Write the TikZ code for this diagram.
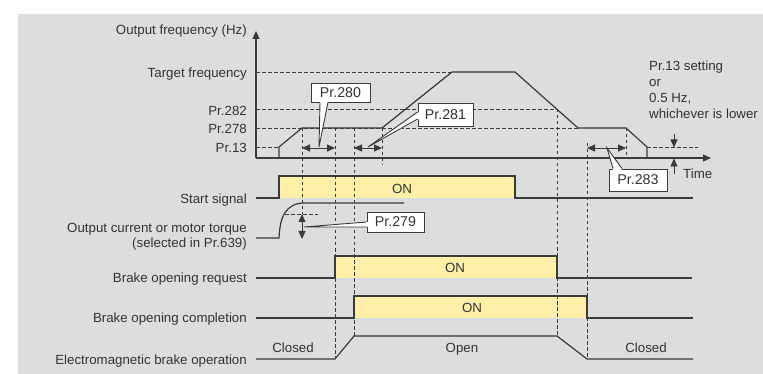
\documentclass[tikz,border=0pt]{standalone}
\usepackage{fontspec}
\setmainfont{Liberation Sans}
\usetikzlibrary{arrows.meta}
\definecolor{bg}{HTML}{DCDDDF}
\definecolor{ln}{HTML}{3A3A3A}
\definecolor{yel}{HTML}{FFEFA8}
\definecolor{txt}{HTML}{333333}
\begin{document}
\begin{tikzpicture}[x=1pt,y=-1pt,
  lbl/.style={anchor=east, inner sep=0pt, text height=9.5pt, text depth=0pt, font=\fontsize{13.3}{16}\selectfont, text=txt},
  ctr/.style={anchor=center, inner sep=0pt, text height=9.5pt, text depth=0pt, font=\fontsize{13.3}{16}\selectfont, text=txt},
  lft/.style={anchor=west, inner sep=0pt, text height=9.5pt, text depth=0pt, font=\fontsize{13.3}{16}\selectfont, text=txt},
  callout/.style={draw=ln, line width=0.9pt, fill=white, inner sep=0pt, text height=10pt, text depth=0pt, font=\fontsize{14.2}{16}\selectfont, text=txt},
  sig/.style={draw=ln, line width=1.2pt},
  dsh/.style={draw=ln, line width=0.75pt, dash pattern=on 3.5pt off 2.5pt},
  dimarrow/.style={draw=ln, line width=0.9pt, {Triangle[length=8pt,width=7pt]}-{Triangle[length=8pt,width=7pt]}},
  onearrow/.style={draw=ln, line width=0.9pt, -{Triangle[length=8pt,width=7pt]}}
]
\useasboundingbox (0,0) rectangle (763,374);
\fill[white] (0,0) rectangle (763,374);
\fill[bg] (18,14) rectangle (763,374);

% yellow ON areas
\fill[yel] (279,176) rectangle (515,198);
\fill[yel] (335,256) rectangle (557,278);
\fill[yel] (354,296) rectangle (587,318);

% dashed guide lines (horizontal)
\draw[dsh] (256,72) -- (452,72);
\draw[dsh] (256,109) -- (557,109);
\draw[dsh] (256,128) -- (578,128);
\draw[dsh] (256,147) -- (279,147);
\draw[dsh] (647,147) -- (698,147);
\draw[dsh] (285,214) -- (318,214);
% dashed guide lines (vertical)
\draw[dsh] (302,128) -- (302,214);
\draw[dsh] (335,128) -- (335,358);
\draw[dsh] (354,128) -- (354,336);
\draw[dsh] (382,128) -- (382,165);
\draw[dsh] (557,109) -- (557,336);
\draw[dsh] (587,143) -- (587,358);
\draw[dsh] (626,128) -- (626,158);

% axes
\coordinate (origin) at (256,158);
\coordinate (ytip) at (256,31);
\coordinate (xtip) at (711,158);
\draw[onearrow, line width=1.2pt] (origin) -- (ytip);
\draw[onearrow, line width=1.2pt] (origin) -- (xtip);

% output frequency
\draw[sig, line join=miter] (279,158) -- (279,147) -- (302,128) -- (382,128) -- (452,72) -- (515,72) -- (578,128) -- (626,128) -- (647,147) -- (647,158);

% start signal
\draw[sig] (256,198) -- (279,198) -- (279,176) -- (515,176) -- (515,198) -- (693,198);
% output current / torque
\draw[sig] (256,238) -- (279,238) .. controls (280,216) and (286,203) .. (305,203) -- (404,203);
% brake opening request
\draw[sig] (256,278) -- (335,278) -- (335,256) -- (557,256) -- (557,278) -- (692,278);
% brake opening completion
\draw[sig] (256,318) -- (354,318) -- (354,296) -- (587,296) -- (587,318) -- (693,318);
% electromagnetic brake operation
\draw[sig] (256,359) -- (335,359) -- (354,336) -- (557,336) -- (587,359) -- (693,359);

% dimension arrows
\coordinate (a280l) at (302,148); \coordinate (a280r) at (335,148);
\coordinate (a281l) at (354,148); \coordinate (a281r) at (382,148);
\coordinate (a283l) at (587,148); \coordinate (a283r) at (626,148);
\coordinate (a279t) at (302,214); \coordinate (a279b) at (302,239);
\draw[dimarrow] (a280l) -- (a280r);
\draw[dimarrow] (a281l) -- (a281r);
\draw[dimarrow] (a283l) -- (a283r);
\draw[dimarrow] (a279t) -- (a279b);
% Pr.13 setting indicator
\coordinate (i13a) at (674,134); \coordinate (i13b) at (674,147.5);
\coordinate (i13c) at (674,174); \coordinate (i13d) at (674,158.5);
\draw[onearrow] (i13a) -- (i13b);
\draw[onearrow] (i13c) -- (i13d);

% callouts
\node[callout, minimum width=59pt, minimum height=19pt] (p280) at (340.5,92.5) {Pr.280};
\node[callout, minimum width=55pt, minimum height=23pt] (p281) at (445.5,114.5) {Pr.281};
\node[callout, minimum width=58pt, minimum height=22pt] (p283) at (638,180) {Pr.283};
\node[callout, minimum width=57pt, minimum height=20pt] (p279) at (395.5,222) {Pr.279};

\coordinate (t280) at (319,147);
\coordinate (t281) at (368,147);
\coordinate (t283) at (607,148);
\coordinate (t279) at (304,227);
\fill[white] ([xshift=-20.5pt,yshift=1.5pt]p280.south) -- (t280) -- ([xshift=-12.5pt,yshift=1.5pt]p280.south) -- cycle;
\draw[ln, line width=0.9pt] ([xshift=-20.5pt]p280.south) -- (t280) -- ([xshift=-12.5pt]p280.south);
\fill[white] ([xshift=1.5pt,yshift=-4.5pt]p281.west) -- (t281) -- ([xshift=1.5pt,yshift=2.5pt]p281.west) -- cycle;
\draw[ln, line width=0.9pt] ([yshift=-4.5pt]p281.west) -- (t281) -- ([yshift=2.5pt]p281.west);
\fill[white] ([xshift=-25pt,yshift=-1.5pt]p283.north) -- (t283) -- ([xshift=-16pt,yshift=-1.5pt]p283.north) -- cycle;
\draw[ln, line width=0.9pt] ([xshift=-25pt]p283.north) -- (t283) -- ([xshift=-16pt]p283.north);
\fill[white] ([xshift=1.5pt,yshift=-5pt]p279.west) -- (t279) -- ([xshift=1.5pt,yshift=0pt]p279.west) -- cycle;
\draw[ln, line width=0.9pt] ([yshift=-5pt]p279.west) -- (t279) -- ([yshift=0pt]p279.west);

% left labels
\node[lbl] (lof) at (247,30) {Output frequency (Hz)};
\node[lbl] (ltf) at (247,72.5) {Target frequency};
\node[lbl] (l282) at (247,110.5) {Pr.282};
\node[lbl] (l278) at (247,128.5) {Pr.278};
\node[lbl] (l13) at (247,147.5) {Pr.13};
\node[lbl] (lss) at (247,199) {Start signal};
\node[lbl] (loc) at (247,228) {Output current or motor torque};
\node[lbl] (lsel) at (247,243) {(selected in Pr.639)};
\node[lbl] (lbr) at (247,278) {Brake opening request};
\node[lbl] (lbc) at (247,318) {Brake opening completion};
\node[lbl] (lem) at (247,360) {Electromagnetic brake operation};

% in-diagram texts
\node[ctr] (on1) at (402,189) {ON};
\node[ctr] (on2) at (455,268) {ON};
\node[ctr] (on3) at (472,308) {ON};
\node[ctr] (cl1) at (293,348) {Closed};
\node[ctr] (op) at (462,348) {Open};
\node[ctr] (cl2) at (646,348) {Closed};
\node[lft] (tm) at (683,174) {Time};
\node[lft] (n13a) at (649,66) {Pr.13 setting};
\node[lft] (n13b) at (649,82) {or};
\node[lft] (n13c) at (649,98) {0.5 Hz,};
\node[lft] (n13d) at (649,113.5) {whichever is lower};
\end{tikzpicture}
\end{document}
